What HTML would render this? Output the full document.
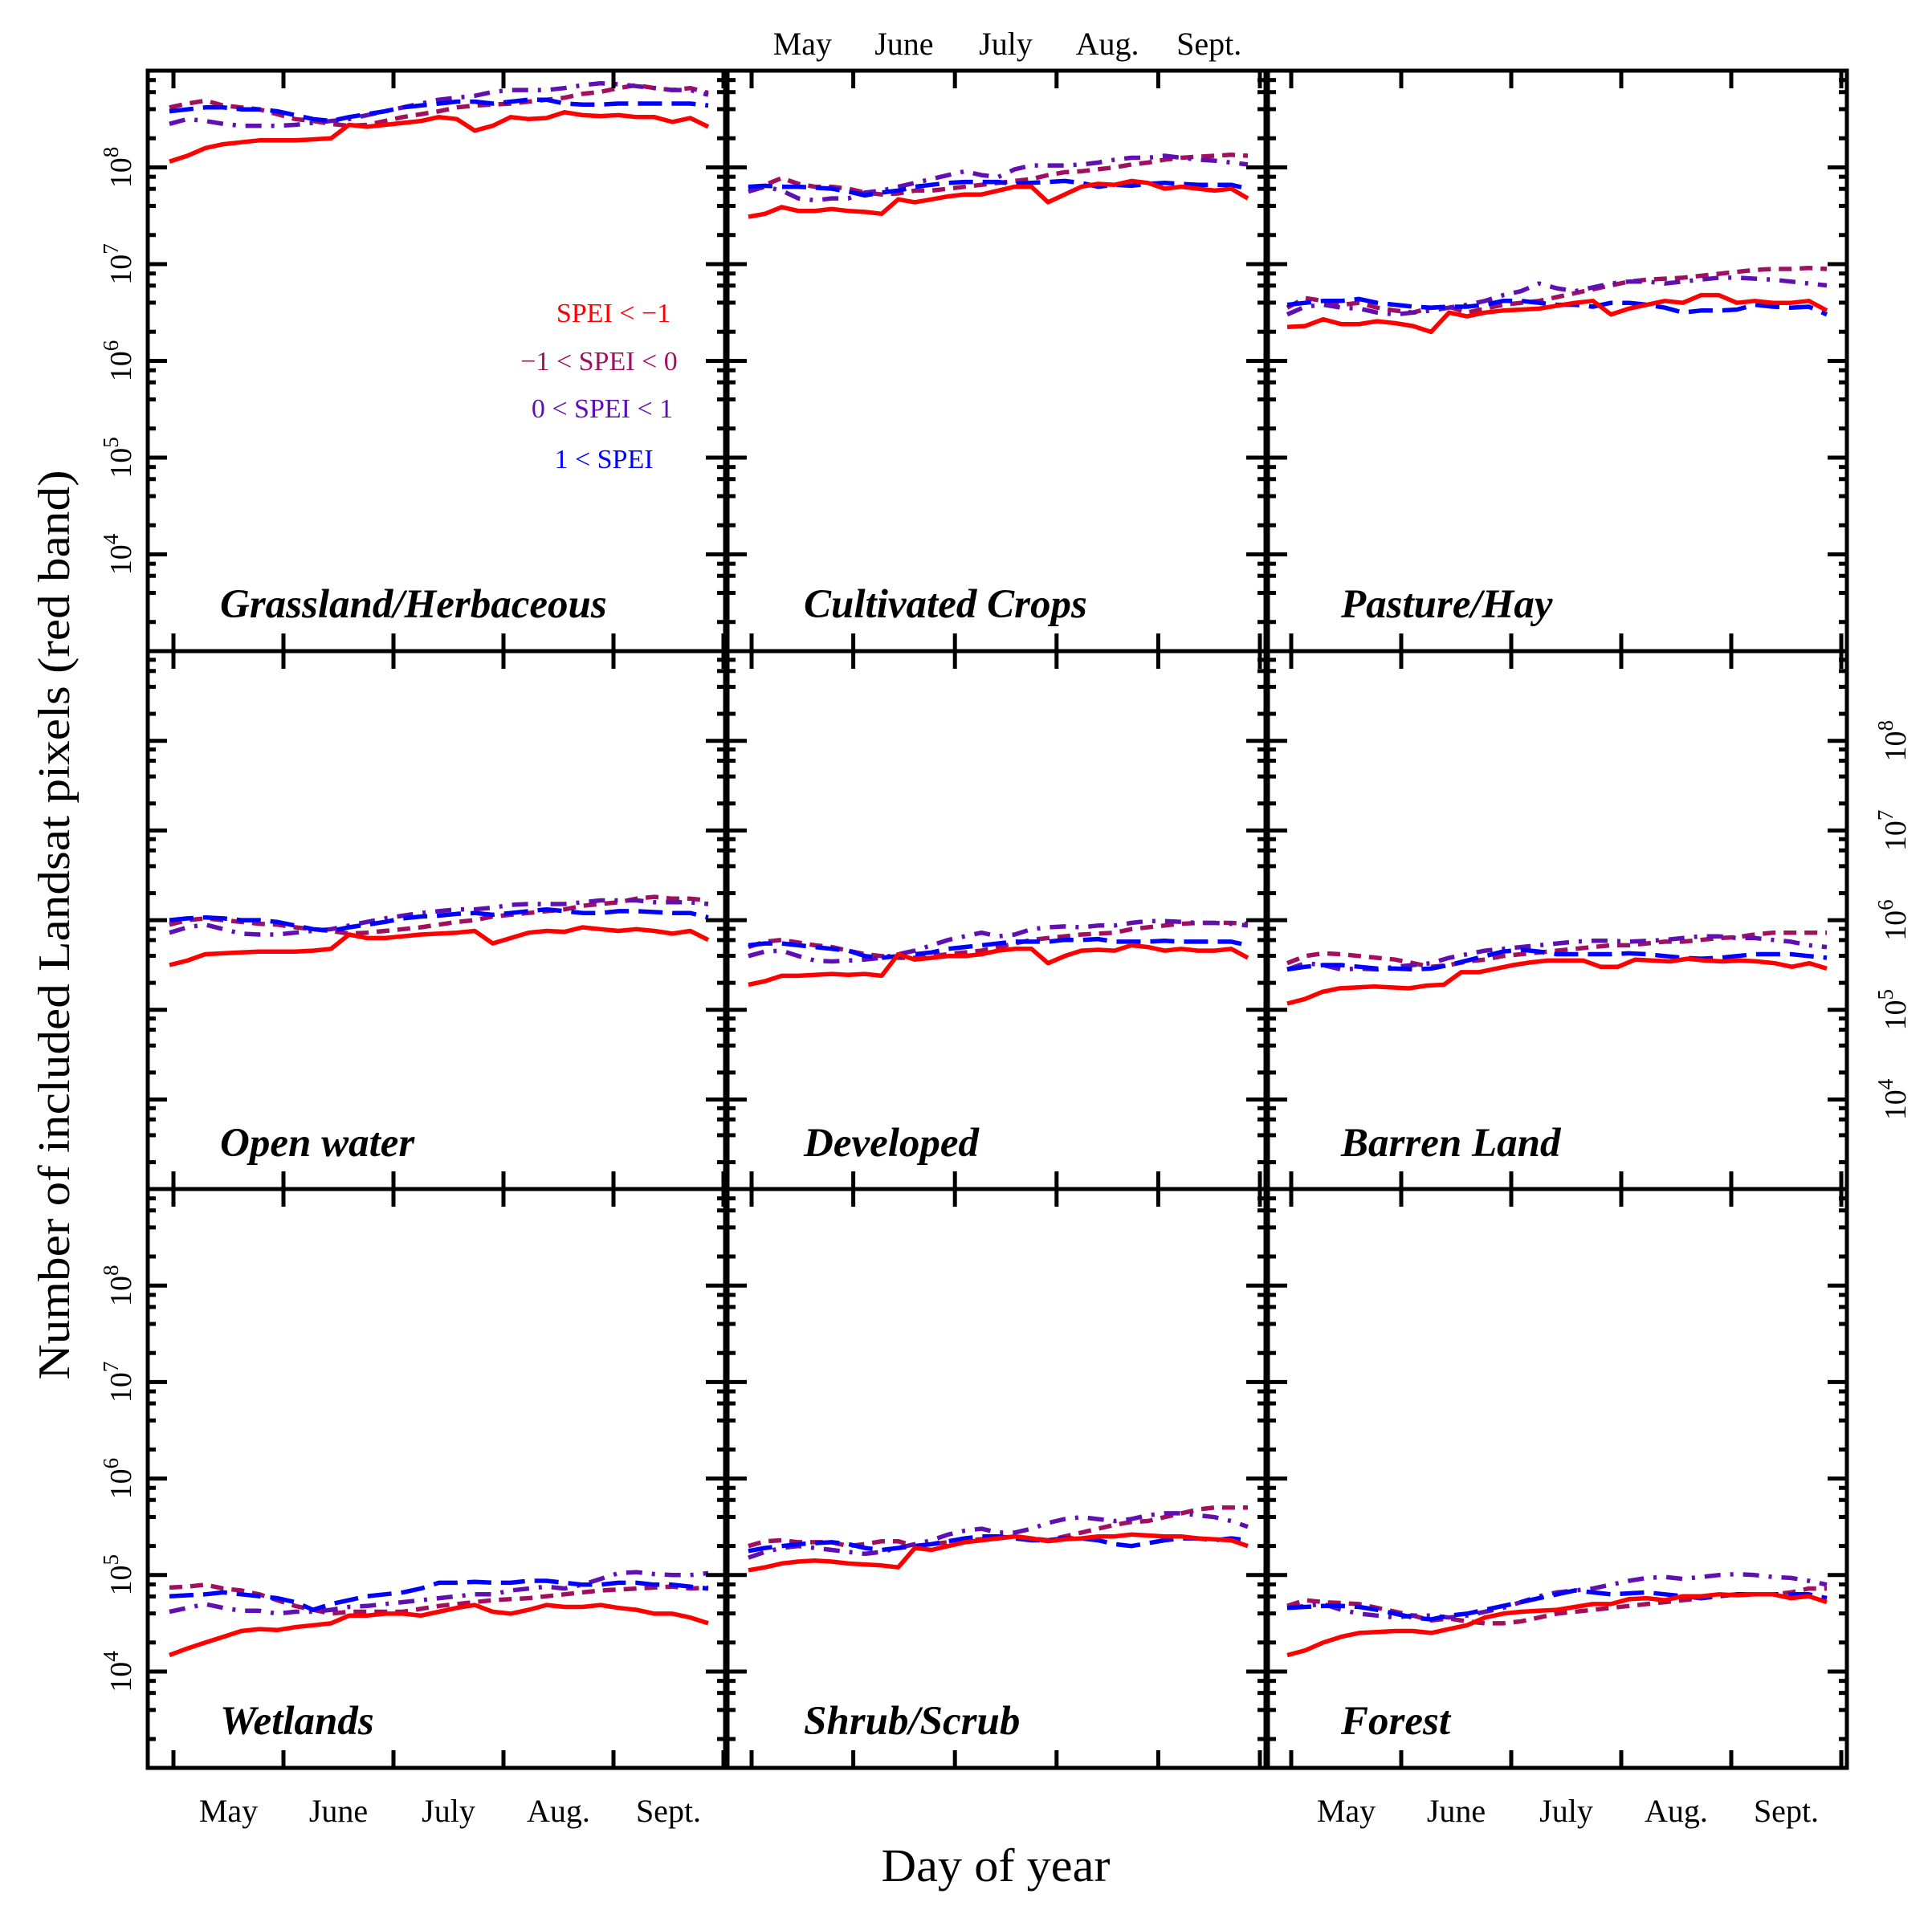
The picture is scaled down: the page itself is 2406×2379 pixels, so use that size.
<!DOCTYPE html>
<html><head><meta charset="utf-8"><style>
html,body{margin:0;padding:0;background:#fff}
svg{display:block}
text{font-family:"Liberation Serif",serif}
</style></head><body>
<svg id="s" xmlns="http://www.w3.org/2000/svg" width="2406" height="2379" viewBox="0 0 2406 2379"></svg>
<script>
const S=document.getElementById('s');
let h='';
const cols=[{L:184,R:903,t0:216,st:137,d0:211,d1:882},{L:906,R:1576,t0:936,st:126.6,d0:932,d1:1554},{L:1579,R:2300,t0:1608,st:137,d0:1603,d1:2275}];
const rows=[{T:88,B:811,dec:120.5},{T:811,B:1481,dec:111.7},{T:1481,B:2202,dec:120.2}];
const C={r:'#ff0000',m:'#a0105f',v:'#6010b0',b:'#0000ff'};
const D={r:'',m:'16 10',v:'20 12 4 12',b:'30 12'};
const data=[
{r:[8.06,8.12,8.2,8.24,8.26,8.28,8.28,8.28,8.29,8.3,8.44,8.42,8.44,8.46,8.48,8.52,8.5,8.38,8.43,8.52,8.5,8.51,8.57,8.54,8.53,8.54,8.52,8.52,8.47,8.51,8.42],
 m:[8.62,8.66,8.69,8.64,8.62,8.6,8.55,8.5,8.48,8.45,8.43,8.44,8.48,8.52,8.55,8.58,8.62,8.64,8.65,8.66,8.68,8.7,8.72,8.76,8.78,8.82,8.85,8.82,8.8,8.82,8.77],
 v:[8.45,8.5,8.48,8.45,8.43,8.43,8.43,8.44,8.46,8.48,8.5,8.54,8.58,8.62,8.66,8.7,8.72,8.74,8.78,8.8,8.8,8.8,8.82,8.85,8.87,8.86,8.84,8.82,8.8,8.8,8.75],
 b:[8.58,8.6,8.62,8.62,8.6,8.6,8.58,8.54,8.5,8.48,8.52,8.55,8.58,8.62,8.64,8.66,8.68,8.68,8.66,8.68,8.7,8.7,8.66,8.65,8.65,8.66,8.66,8.66,8.66,8.66,8.64]},
{r:[7.49,7.52,7.59,7.55,7.55,7.57,7.55,7.54,7.52,7.67,7.64,7.67,7.7,7.72,7.72,7.76,7.8,7.8,7.64,7.72,7.8,7.83,7.82,7.86,7.84,7.78,7.8,7.78,7.76,7.78,7.68],
 m:[7.78,7.82,7.89,7.83,7.8,7.8,7.78,7.74,7.72,7.73,7.76,7.76,7.78,7.8,7.82,7.84,7.86,7.88,7.92,7.95,7.96,7.98,8.0,8.03,8.05,8.08,8.1,8.11,8.12,8.13,8.12],
 v:[7.75,7.8,7.76,7.68,7.66,7.68,7.68,7.74,7.76,7.8,7.84,7.88,7.92,7.96,7.92,7.9,7.98,8.02,8.02,8.02,8.03,8.05,8.08,8.1,8.1,8.12,8.1,8.08,8.07,8.05,8.03],
 b:[7.8,7.81,7.8,7.8,7.79,7.78,7.75,7.71,7.74,7.76,7.8,7.82,7.84,7.85,7.85,7.85,7.83,7.84,7.85,7.86,7.84,7.8,7.82,7.81,7.83,7.84,7.83,7.82,7.82,7.82,7.78]},
{r:[6.35,6.36,6.43,6.38,6.38,6.41,6.39,6.36,6.3,6.5,6.46,6.5,6.52,6.53,6.54,6.57,6.6,6.62,6.48,6.54,6.58,6.62,6.6,6.68,6.68,6.6,6.62,6.6,6.6,6.62,6.52],
 m:[6.55,6.65,6.62,6.58,6.6,6.55,6.52,6.5,6.55,6.56,6.5,6.54,6.58,6.6,6.62,6.66,6.7,6.74,6.78,6.82,6.84,6.85,6.86,6.88,6.9,6.92,6.94,6.95,6.95,6.96,6.95],
 v:[6.48,6.56,6.58,6.55,6.54,6.5,6.48,6.5,6.52,6.55,6.58,6.62,6.68,6.72,6.8,6.75,6.72,6.76,6.8,6.82,6.82,6.8,6.82,6.84,6.86,6.86,6.85,6.84,6.82,6.8,6.78],
 b:[6.58,6.6,6.62,6.62,6.64,6.6,6.58,6.56,6.55,6.56,6.56,6.58,6.62,6.62,6.6,6.58,6.58,6.56,6.6,6.6,6.58,6.55,6.5,6.52,6.52,6.53,6.58,6.56,6.55,6.56,6.48]},
{r:[5.5,5.55,5.62,5.63,5.64,5.65,5.65,5.65,5.66,5.68,5.84,5.8,5.8,5.82,5.84,5.85,5.86,5.88,5.74,5.8,5.86,5.88,5.87,5.92,5.9,5.88,5.9,5.88,5.85,5.88,5.78],
 m:[5.95,6.0,6.02,6.0,5.98,5.96,5.95,5.92,5.9,5.88,5.85,5.86,5.88,5.9,5.92,5.95,5.98,6.0,6.04,6.06,6.08,6.1,6.12,6.16,6.18,6.2,6.24,6.26,6.24,6.24,6.22],
 v:[5.86,5.92,5.95,5.9,5.85,5.84,5.84,5.86,5.88,5.9,5.94,5.98,6.02,6.05,6.08,6.1,6.12,6.12,6.14,6.17,6.18,6.18,6.18,6.2,6.22,6.22,6.22,6.2,6.2,6.2,6.18],
 b:[6.0,6.02,6.03,6.02,6.0,6.0,5.98,5.94,5.9,5.88,5.92,5.95,5.98,6.02,6.04,6.05,6.07,6.08,6.06,6.08,6.1,6.12,6.1,6.08,6.08,6.1,6.1,6.09,6.08,6.08,6.03]},
{r:[5.28,5.32,5.38,5.38,5.39,5.4,5.39,5.4,5.38,5.62,5.56,5.58,5.6,5.6,5.62,5.66,5.68,5.68,5.52,5.6,5.66,5.67,5.66,5.72,5.7,5.66,5.68,5.66,5.66,5.68,5.58],
 m:[5.7,5.76,5.78,5.75,5.72,5.7,5.66,5.62,5.6,5.58,5.58,5.6,5.62,5.64,5.66,5.7,5.74,5.78,5.8,5.82,5.84,5.85,5.86,5.9,5.92,5.94,5.96,5.97,5.97,5.97,5.96],
 v:[5.6,5.65,5.66,5.6,5.55,5.54,5.55,5.56,5.58,5.62,5.66,5.72,5.78,5.82,5.86,5.82,5.84,5.9,5.92,5.93,5.92,5.94,5.94,5.97,5.99,5.99,5.98,5.97,5.97,5.96,5.94],
 b:[5.72,5.74,5.74,5.72,5.7,5.68,5.66,5.6,5.58,5.6,5.62,5.64,5.68,5.7,5.72,5.74,5.76,5.76,5.76,5.78,5.78,5.79,5.76,5.76,5.76,5.77,5.76,5.76,5.76,5.76,5.72]},
{r:[5.07,5.12,5.2,5.24,5.25,5.26,5.25,5.24,5.27,5.28,5.42,5.42,5.46,5.5,5.53,5.55,5.55,5.55,5.48,5.48,5.56,5.55,5.54,5.57,5.55,5.54,5.55,5.54,5.52,5.48,5.52,5.46],
 m:[5.52,5.6,5.63,5.62,5.6,5.58,5.56,5.52,5.48,5.5,5.54,5.56,5.6,5.62,5.64,5.66,5.68,5.7,5.72,5.72,5.74,5.76,5.76,5.78,5.8,5.81,5.84,5.86,5.86,5.86,5.86],
 v:[5.45,5.52,5.5,5.45,5.46,5.45,5.48,5.5,5.52,5.58,5.62,5.66,5.68,5.7,5.72,5.74,5.76,5.77,5.77,5.76,5.77,5.78,5.8,5.82,5.82,5.8,5.8,5.78,5.76,5.72,5.7],
 b:[5.45,5.48,5.5,5.5,5.48,5.46,5.46,5.45,5.46,5.5,5.55,5.6,5.65,5.67,5.65,5.62,5.62,5.62,5.62,5.63,5.62,5.6,5.58,5.57,5.58,5.6,5.62,5.62,5.62,5.6,5.58]},
{r:[4.17,4.24,4.3,4.36,4.42,4.44,4.43,4.46,4.48,4.5,4.58,4.58,4.6,4.6,4.58,4.62,4.66,4.69,4.62,4.6,4.64,4.69,4.67,4.67,4.69,4.66,4.64,4.6,4.6,4.56,4.5],
 m:[4.87,4.88,4.9,4.86,4.84,4.8,4.74,4.68,4.64,4.6,4.62,4.62,4.62,4.62,4.65,4.68,4.7,4.72,4.74,4.75,4.76,4.78,4.8,4.82,4.84,4.85,4.86,4.87,4.88,4.86,4.87],
 v:[4.62,4.66,4.7,4.66,4.63,4.63,4.6,4.62,4.62,4.64,4.67,4.68,4.7,4.72,4.74,4.76,4.78,4.8,4.8,4.84,4.86,4.88,4.86,4.9,4.96,5.02,5.03,5.01,5.0,5.0,5.02],
 b:[4.78,4.79,4.8,4.82,4.8,4.78,4.76,4.72,4.64,4.7,4.74,4.78,4.8,4.82,4.86,4.92,4.92,4.93,4.92,4.92,4.94,4.94,4.92,4.9,4.9,4.92,4.92,4.9,4.9,4.88,4.86]},
{r:[5.05,5.08,5.12,5.14,5.15,5.14,5.12,5.11,5.1,5.08,5.28,5.26,5.3,5.34,5.36,5.38,5.4,5.38,5.35,5.37,5.38,5.4,5.4,5.42,5.41,5.4,5.4,5.38,5.37,5.36,5.3],
 m:[5.3,5.35,5.36,5.34,5.34,5.34,5.3,5.32,5.35,5.35,5.3,5.32,5.34,5.36,5.37,5.38,5.4,5.38,5.36,5.4,5.44,5.48,5.52,5.55,5.56,5.6,5.64,5.68,5.7,5.7,5.7],
 v:[5.18,5.24,5.28,5.3,5.28,5.26,5.24,5.22,5.24,5.28,5.32,5.36,5.42,5.46,5.48,5.44,5.44,5.48,5.54,5.58,5.6,5.58,5.56,5.58,5.62,5.64,5.64,5.62,5.6,5.56,5.5],
 b:[5.25,5.28,5.3,5.32,5.33,5.34,5.32,5.28,5.26,5.28,5.3,5.32,5.35,5.38,5.4,5.4,5.38,5.36,5.36,5.38,5.38,5.36,5.32,5.3,5.33,5.36,5.38,5.38,5.36,5.38,5.36]},
{r:[4.17,4.22,4.3,4.36,4.4,4.41,4.42,4.42,4.4,4.44,4.48,4.56,4.6,4.62,4.63,4.64,4.67,4.7,4.7,4.75,4.76,4.74,4.78,4.78,4.8,4.79,4.8,4.8,4.76,4.78,4.72],
 m:[4.68,4.74,4.72,4.71,4.7,4.66,4.62,4.58,4.53,4.55,4.52,4.5,4.5,4.52,4.56,4.6,4.62,4.64,4.66,4.68,4.7,4.72,4.74,4.76,4.78,4.8,4.8,4.8,4.82,4.86,4.86],
 v:[4.66,4.68,4.7,4.64,4.6,4.58,4.56,4.58,4.58,4.56,4.58,4.62,4.66,4.72,4.78,4.82,4.84,4.86,4.9,4.94,4.97,4.98,4.96,4.98,5.0,5.01,5.0,4.98,4.97,4.94,4.9],
 b:[4.66,4.67,4.68,4.68,4.67,4.64,4.6,4.56,4.54,4.58,4.6,4.64,4.68,4.72,4.76,4.8,4.84,4.82,4.8,4.81,4.82,4.8,4.78,4.76,4.78,4.8,4.8,4.8,4.8,4.8,4.76]}
];
const titles=['Grassland/Herbaceous','Cultivated Crops','Pasture/Hay','Open water','Developed','Barren Land','Wetlands','Shrub/Scrub','Forest'];
const tx=[274,1001,1670];const ty=[769,1440,2160];
function Y(r,v){return r.T+(9-v)*r.dec;}
for(let ri=0;ri<3;ri++)for(let ci=0;ci<3;ci++){
 const r=rows[ri],c=cols[ci],k=ri*3+ci,d=data[k];
 for(const s of ['m','v','b','r']){
  const a=d[s];let p=[];
  for(let i=0;i<a.length;i++){const x=c.d0+(c.d1-c.d0)*i/(a.length-1);p.push(x.toFixed(1)+','+Y(r,a[i]).toFixed(1));}
  h+=`<polyline points="${p.join(' ')}" fill="none" stroke="${C[s]}" stroke-width="5.5" stroke-linejoin="round" ${D[s]?`stroke-dasharray="${D[s]}"`:''}/>`;
 }
 for(let e=3;e<9;e++){
  for(let m=1;m<10;m++){
   if(m!=1&&m%2)continue;
   const v=e+Math.log10(m);const y=Y(r,v);if(y<r.T+3||y>r.B-3)continue;
   const L=(m==1)?24:10;
   h+=`<line x1="${c.L}" y1="${y}" x2="${c.L+L}" y2="${y}" stroke="#000" stroke-width="5"/>`;
   h+=`<line x1="${c.R}" y1="${y}" x2="${c.R-L}" y2="${y}" stroke="#000" stroke-width="5"/>`;
  }
 }
 for(let i=0;i<6;i++){const x=c.t0+c.st*i;
  h+=`<line x1="${x}" y1="${r.T}" x2="${x}" y2="${r.T+22}" stroke="#000" stroke-width="5"/>`;
  h+=`<line x1="${x}" y1="${r.B}" x2="${x}" y2="${r.B-22}" stroke="#000" stroke-width="5"/>`;}
 h+=`<rect x="${c.L}" y="${r.T}" width="${c.R-c.L}" height="${r.B-r.T}" fill="none" stroke="#000" stroke-width="5"/>`;
 h+=`<text x="${tx[ci]}" y="${ty[ri]}" font-size="51" font-weight="bold" font-style="italic">${titles[k]}</text>`;
}
function ylab(x,r){for(let e=4;e<=8;e++){const y=Y(r,e);
 h+=`<text transform="translate(${x},${y}) rotate(-90)" text-anchor="middle" font-size="38">10<tspan font-size="27" dy="-16">${e}</tspan></text>`;}}
ylab(163,rows[0]);ylab(163,rows[2]);ylab(2373,rows[1]);
const mon=['May','June','July','Aug.','Sept.'];
function mlab(c,y){for(let i=0;i<5;i++){h+=`<text x="${c.t0+c.st*(i+0.5)}" y="${y}" text-anchor="middle" font-size="40">${mon[i]}</text>`;}}
mlab(cols[1],68);mlab(cols[0],2269);mlab(cols[2],2269);
h+=`<text x="764" y="401" text-anchor="middle" font-size="34" fill="${C.r}">SPEI &lt; −1</text>`;
h+=`<text x="746" y="461" text-anchor="middle" font-size="34" fill="${C.m}">−1 &lt; SPEI &lt;  0</text>`;
h+=`<text x="750" y="520" text-anchor="middle" font-size="34" fill="${C.v}">0 &lt; SPEI &lt;  1</text>`;
h+=`<text x="752" y="583" text-anchor="middle" font-size="34" fill="${C.b}">1 &lt; SPEI</text>`;
h+=`<text transform="translate(86,1152) rotate(-90)" text-anchor="middle" font-size="56" textLength="1133" lengthAdjust="spacingAndGlyphs">Number of included Landsat pixels (red band)</text>`;
h+=`<text x="1240" y="2343" text-anchor="middle" font-size="58" textLength="285" lengthAdjust="spacingAndGlyphs">Day of year</text>`;
S.innerHTML=h;
</script>
</body></html>
